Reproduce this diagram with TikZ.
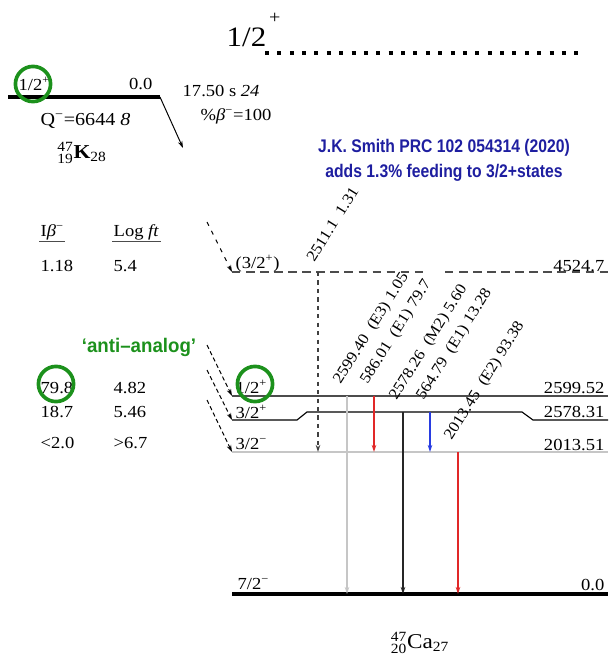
\documentclass[tikz,border=0pt]{standalone}
\usepackage{fontspec}
\setmainfont{Liberation Serif}[FakeStretch=1.1]
\newfontfamily\notefont{Liberation Sans}
\usetikzlibrary{arrows.meta}
\definecolor{annogreen}{RGB}{28,145,28}
\definecolor{annoblue}{RGB}{30,30,160}
\definecolor{gred}{RGB}{225,40,40}
\definecolor{gblue}{RGB}{40,60,225}
% nuclide symbol: mass, Z, element, N, script size
\newcommand\nucl[5]{${}^{\hbox{\fontsize{#5}{#5}\selectfont#1}}_{\hbox{\fontsize{#5}{#5}\selectfont#2}}$#3$_{\hbox{\fontsize{#5}{#5}\selectfont#4}}$}

\begin{document}
\begin{tikzpicture}[x=0.025cm,y=-0.025cm,
  every node/.style={inner sep=1pt,font=\fontsize{12}{14}\selectfont},
  lvl/.style={line width=0.8pt},
  gam/.style={line width=0.9pt,-{Stealth[length=5pt,width=3.2pt]}},
  feed/.style={densely dashed,line width=0.7pt,-{Stealth[length=5pt,width=3.2pt]}},
  glab/.style={rotate=58,anchor=south west,font=\fontsize{11}{13}\selectfont},
  ring/.style={circle,draw=annogreen,line width=2.6pt,minimum size=25pt},
  blurb/.style={font=\notefont\bfseries\fontsize{13}{17.8}\selectfont,align=center},
  tgray/.style={gray!45},
  tred/.style={gred},
  tdark/.style={black!85},
  tblue/.style={gblue},
  tdash/.style={dashed,black!75}]
  \useasboundingbox (0,0) rectangle (608,660);

  % spin marker at the top
  \node[anchor=base west,font=\fontsize{20}{20}\selectfont] (topspin) at (225,46) {1/2\kern2pt\raisebox{16pt}{\fontsize{13}{13}\selectfont +}};
  \coordinate (dotstart) at (265,53);
  \coordinate (dotend) at (578,53);
  \draw[line width=2.8pt,dash pattern=on 2.8pt off 6pt] (dotstart) -- (dotend);

  % parent 47K
  \coordinate (pL) at (8,97);
  \coordinate (pR) at (160,97);
  \draw[line width=3pt] (pL) -- (pR);
  \node[anchor=base west] (pspin) at (17,90) {1/2\textsuperscript{+}};
  \node[ring] (pring) at (33,84) {};
  \node[anchor=base east] (pen) at (154,89) {0.0};
  \node[anchor=base west] (phalf) at (181,96) {17.50 s \textit{24}};
  \node[anchor=base west] (pbr) at (199,120) {\%\textit{β}\textsuperscript{−}=100};
  \node[anchor=base west,font=\fontsize{13}{15}\selectfont] (pq) at (39,125) {Q\textsuperscript{−}=6644 \textit{8}};
  \node[font=\fontsize{14}{16}\selectfont] (pnuc) at (82,153) {\nucl{47}{19}{\textbf{K}}{28}{10}};
  \coordinate (pfeed) at (183,148);
  \draw[line width=0.7pt,-{Stealth[length=5pt,width=3.2pt]}] (pR) -- (pfeed);

  \node[blurb,text=annoblue,xscale=0.86] (smith) at (444,160) {J.K. Smith PRC 102 054314 (2020)\\adds 1.3\% feeding to 3/2+states};

  % beta feeding table
  \node[anchor=base west] (hib) at (39,236) {I\textit{β}\textsuperscript{−}};
  \node[anchor=base west] (hlf) at (112,236) {Log \textit{ft}};
  \draw[line width=1pt,gray!60!black] (hib.south west) -- (hib.south east);
  \draw[line width=1pt,gray!60!black] (hlf.south west) -- (hlf.south east);
  \node[anchor=base west] (ib1) at (39,271) {1.18};
  \node[anchor=base west] (lf1) at (112,271) {5.4};
  \node[anchor=base west] (ib2) at (39,393) {79.8};
  \node[anchor=base west] (lf2) at (112,393) {4.82};
  \node[anchor=base west] (ib3) at (39,417) {18.7};
  \node[anchor=base west] (lf3) at (112,417) {5.46};
  \node[anchor=base west] (ib4) at (39,448) {<2.0};
  \node[anchor=base west] (lf4) at (112,448) {>6.7};
  \node[ring] (ring79) at (56,384) {};
  \node[font=\notefont\bfseries\fontsize{14}{16}\selectfont,text=annogreen,xscale=0.95] (antian) at (139,347) {‘anti–analog’};

  % levels of 47Ca
  \coordinate (l4524) at (232,272);
  \coordinate (r4524) at (608,272);
  \draw[lvl,gray!60!black,dash pattern=on 6pt off 4pt] (l4524) -- (425,272) (445,272) -- (r4524);
  \coordinate (l2599) at (232,396);
  \coordinate (r2599) at (608,396);
  \draw[lvl,black!70] (l2599) -- (r2599);
  \coordinate (l2578) at (232,420);
  \coordinate (r2578) at (608,420);
  \draw[lvl] (l2578) -- (297,420) -- (307,412) -- (522,412) -- (533,420) -- (r2578);
  \coordinate (l2013) at (232,452);
  \coordinate (r2013) at (608,452);
  \draw[lvl,gray!45] (l2013) -- (r2013);
  \coordinate (l0) at (232,594);
  \coordinate (r0) at (608,594);
  \draw[line width=3pt] (l0) -- (r0);

  \node[anchor=base west] (j4524) at (234,268) {(3/2\textsuperscript{+})};
  \node[anchor=base east] (e4524) at (606,271) {4524.7};
  \node[anchor=base west] (j2599) at (234,393) {1/2\textsuperscript{+}};
  \node[anchor=base east] (e2599) at (606,393) {2599.52};
  \node[anchor=base west] (j2578) at (234,418) {3/2\textsuperscript{+}};
  \node[anchor=base east] (e2578) at (606,417) {2578.31};
  \node[anchor=base west] (j2013) at (234,449) {3/2\textsuperscript{−}};
  \node[anchor=base east] (e2013) at (606,450) {2013.51};
  \node[anchor=base west] (j0) at (236,589) {7/2\textsuperscript{−}};
  \node[anchor=base east] (e0) at (606,590) {0.0};
  \node[ring] (ring12) at (255,384) {};
  \node[font=\fontsize{15}{17}\selectfont] (dnuc) at (420,643) {\nucl{47}{20}{Ca}{27}{10}};

  % beta feeding arrows
  \coordinate (f4524) at (207,222);
  \coordinate (f2599) at (207,345);
  \coordinate (f2578) at (207,370);
  \coordinate (f2013) at (207,400);
  \draw[feed,dash pattern=on 3pt off 4pt] (f4524) -- (l4524);
  \draw[feed] (f2599) -- (l2599);
  \draw[feed] (f2578) -- (l2578);
  \draw[feed] (f2013) -- (l2013);

  % gamma transitions
  \foreach \xg/\yt/\yb/\tcol/\txt in {
    318/272/452/tdash/{2511.1~~1.31},
    347/396/594/tgray/{2599.40~~(E3)~1.05},
    374/396/452/tred/{586.01~~(E1)~79.7},
    403/412/594/tdark/{2578.26~~(M2)~5.60},
    430/412/452/tblue/{564.79~~(E1)~13.28},
    458/452/594/tred/{2013.45~~(E2)~93.38}}{
    \coordinate (s\xg) at (\xg,\yt);
    \coordinate (e\xg) at (\xg,\yb);
    \draw[gam,\tcol] (s\xg) -- (e\xg);
    \node[glab] (g\xg) at (\xg-3,\yt-7) {\txt};
  }
\end{tikzpicture}
\end{document}
